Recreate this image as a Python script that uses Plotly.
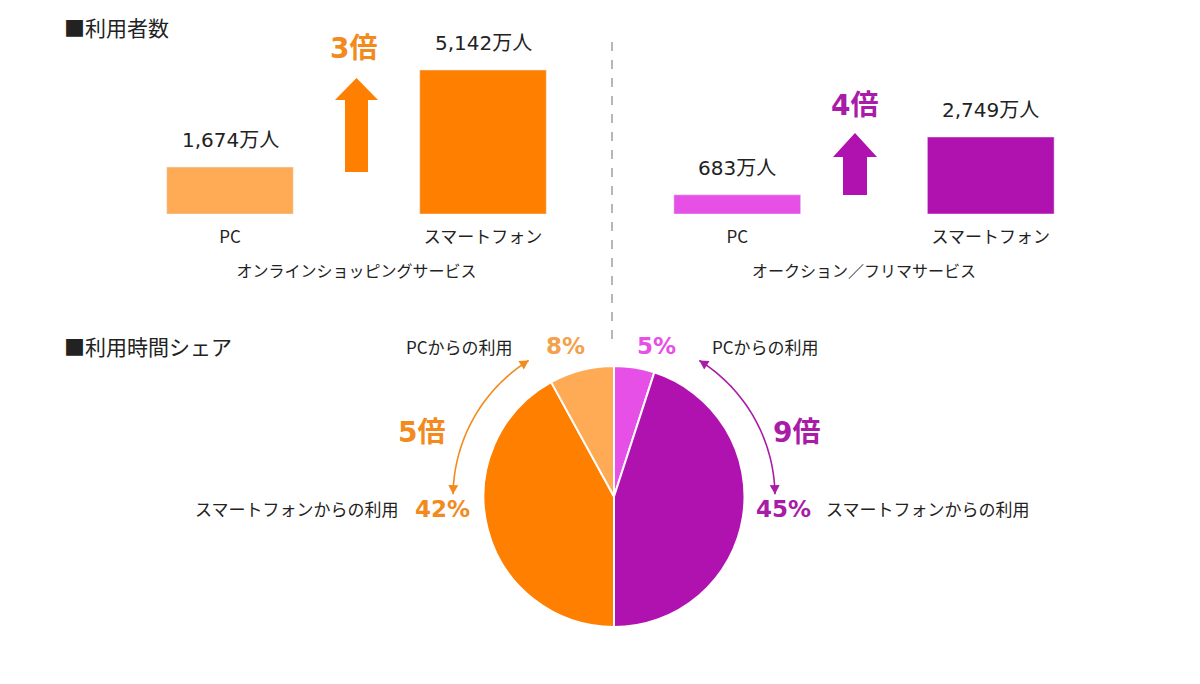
import numpy as np
import plotly.graph_objects as go

# Data
devices = ["PC", "スマートフォン"]
shopping_users = [1674, 5142]      # 万人
auction_users = [683, 2749]        # 万人
shopping_ratio = "3倍"
auction_ratio = "4倍"

share_labels = ["PCからの利用", "スマートフォンからの利用", "スマートフォンからの利用", "PCからの利用"]
share_values = [5, 45, 42, 8]      # % (clockwise from top: auction PC, auction SP, shopping SP, shopping PC)
share_ratio_shop = "5倍"
share_ratio_auction = "9倍"

LIGHT_ORANGE = "#FFAA55"
ORANGE = "#FF7F00"
LIGHT_PURPLE = "#E650E6"
PURPLE = "#B012B0"
TXT_ORANGE = "#F28A1E"
TXT_PURPLE = "#A81CA8"
FONT = "Noto Sans CJK JP"
NUM_FONT = "DejaVu Sans, Noto Sans CJK JP"
W, H = 1200, 684
OFF = 8  # page body margin in the browser


def px(x):
    return (x - OFF) / W


def py(y):
    return 1 - (y - OFF) / H


fig = go.Figure()

fig.add_trace(go.Bar(x=devices, y=shopping_users, marker_color=[LIGHT_ORANGE, ORANGE],
                     xaxis="x", yaxis="y", hoverinfo="skip"))
fig.add_trace(go.Bar(x=devices, y=auction_users, marker_color=[LIGHT_PURPLE, PURPLE],
                     xaxis="x2", yaxis="y2", hoverinfo="skip"))

fig.add_trace(go.Pie(
    values=share_values, labels=[f"s{i}" for i in range(4)],
    marker=dict(colors=[LIGHT_PURPLE, PURPLE, ORANGE, LIGHT_ORANGE], line=dict(color="white", width=2)),
    sort=False, direction="clockwise", rotation=0, textinfo="none", hoverinfo="skip",
    domain=dict(x=[px(483), px(745)], y=[py(627), py(366)]), showlegend=False,
))

annotations = []
# value labels above bars
for xa, ya, vals in [("x", "y", shopping_users), ("x2", "y2", auction_users)]:
    for d, v in zip(devices, vals):
        annotations.append(dict(x=d, y=v, xref=xa, yref=ya, text=f"{v:,}万人", showarrow=False,
                                yanchor="bottom", yshift=13, font=dict(size=20, color="#222", family=NUM_FONT)))

# ratio labels
annotations += [
    dict(x=px(353), y=py(48), text=f"<b>{shopping_ratio}</b>", font=dict(size=28, color=TXT_ORANGE, family=NUM_FONT)),
    dict(x=px(854), y=py(105), text=f"<b>{auction_ratio}</b>", font=dict(size=28, color=TXT_PURPLE, family=NUM_FONT)),
    dict(x=px(421), y=py(432), text=f"<b>{share_ratio_shop}</b>", font=dict(size=28, color=TXT_ORANGE, family=NUM_FONT)),
    dict(x=px(796), y=py(432), text=f"<b>{share_ratio_auction}</b>", font=dict(size=28, color=TXT_PURPLE, family=NUM_FONT)),
]

# section titles
annotations += [
    dict(x=px(62), y=py(27), text="■利用者数", xanchor="left", font=dict(size=21, color="#222")),
    dict(x=px(62), y=py(346), text="■利用時間シェア", xanchor="left", font=dict(size=21, color="#222")),
]

# pie labels
pie_label_pos = [
    # (label x, pct x, y, pct colour)
    (765, 656, 346, LIGHT_PURPLE),
    (928, 783, 509, TXT_PURPLE),
    (297, 442, 509, TXT_ORANGE),
    (459, 565, 346, "#F5A04A"),
]
for lab, val, (lx, vx, y, c) in zip(share_labels, share_values, pie_label_pos):
    annotations.append(dict(x=px(lx), y=py(y), text=lab, font=dict(size=17, color="#222")))
    annotations.append(dict(x=px(vx), y=py(y), text=f"<b>{val}%</b>",
                            font=dict(size=23, color=c, family=NUM_FONT)))

for a in annotations:
    a.setdefault("xref", "paper")
    a.setdefault("yref", "paper")
    a.setdefault("showarrow", False)
    a.setdefault("xanchor", "center")
    a.setdefault("yanchor", "middle")
    a["font"].setdefault("family", FONT)

shapes = []


def block_arrow(cx, top, head_base, bottom, head_w, shaft_w, color):
    pts = [(cx, top), (cx + head_w / 2, head_base), (cx + shaft_w / 2, head_base),
           (cx + shaft_w / 2, bottom), (cx - shaft_w / 2, bottom), (cx - shaft_w / 2, head_base),
           (cx - head_w / 2, head_base)]
    path = "M " + " L ".join(f"{px(x):.5f},{py(y):.5f}" for x, y in pts) + " Z"
    return dict(type="path", path=path, xref="paper", yref="paper", fillcolor=color, line=dict(width=0))


shapes.append(block_arrow(356.5, 78, 100, 172, 43, 23, ORANGE))
shapes.append(block_arrow(855, 133, 157, 195, 44, 24, PURPLE))


def arc_arrow(a0, a1, color, cx=614, cy=497, r=161):
    t = np.radians(np.linspace(a0, a1, 40))
    xs = cx + r * np.cos(t)
    ys = cy - r * np.sin(t)
    path = "M " + " L ".join(f"{px(x):.5f},{py(y):.5f}" for x, y in zip(xs, ys))
    out = [dict(type="path", path=path, xref="paper", yref="paper", line=dict(color=color, width=1.6))]
    # arrowheads at both ends
    for i, j in [(0, 1), (-1, -2)]:
        tipx, tipy = xs[i], ys[i]
        dx, dy = xs[i] - xs[j], ys[i] - ys[j]
        n = np.hypot(dx, dy)
        dx, dy = dx / n, dy / n
        L, Wd = 9, 5
        bx, by = tipx - dx * L, tipy - dy * L
        p1 = (bx - dy * Wd, by + dx * Wd)
        p2 = (bx + dy * Wd, by - dx * Wd)
        tri = f"M {px(tipx):.5f},{py(tipy):.5f} L {px(p1[0]):.5f},{py(p1[1]):.5f} L {px(p2[0]):.5f},{py(p2[1]):.5f} Z"
        out.append(dict(type="path", path=tri, xref="paper", yref="paper", fillcolor=color, line=dict(width=0)))
    return out


shapes += arc_arrow(122, 179, TXT_ORANGE)
shapes += arc_arrow(58, 1, TXT_PURPLE)

# dashed divider
shapes.append(dict(type="line", xref="paper", yref="paper", x0=px(612), x1=px(612), y0=py(42), y1=py(348),
                   line=dict(color="#888", width=1.2, dash="dash")))

ymax = 6000
ytop = 214 - ymax * 144 / 5142
axis_common = dict(showgrid=False, zeroline=False, showline=False, ticks="",
                   tickfont=dict(size=17, color="#222", family=FONT), ticklabelstandoff=11,
                   fixedrange=True)
yaxis_common = dict(range=[0, ymax], domain=[py(214), py(ytop)], visible=False, fixedrange=True)

fig.update_layout(
    width=W, height=H, margin=dict(l=0, r=0, t=0, b=0),
    paper_bgcolor="white", plot_bgcolor="white", showlegend=False, bargap=0.5,
    font=dict(family=FONT),
    xaxis=dict(domain=[px(103.5), px(609.5)], anchor="y",
               title=dict(text="オンラインショッピングサービス", standoff=18,
                          font=dict(size=16, color="#222", family=FONT)), **axis_common),
    xaxis2=dict(domain=[px(610.5), px(1117.5)], anchor="y2",
                title=dict(text="オークション／フリマサービス", standoff=18,
                           font=dict(size=16, color="#222", family=FONT)), **axis_common),
    yaxis=yaxis_common,
    yaxis2=dict(anchor="x2", **yaxis_common),
    annotations=annotations, shapes=shapes,
)

fig.write_html("out.html")
